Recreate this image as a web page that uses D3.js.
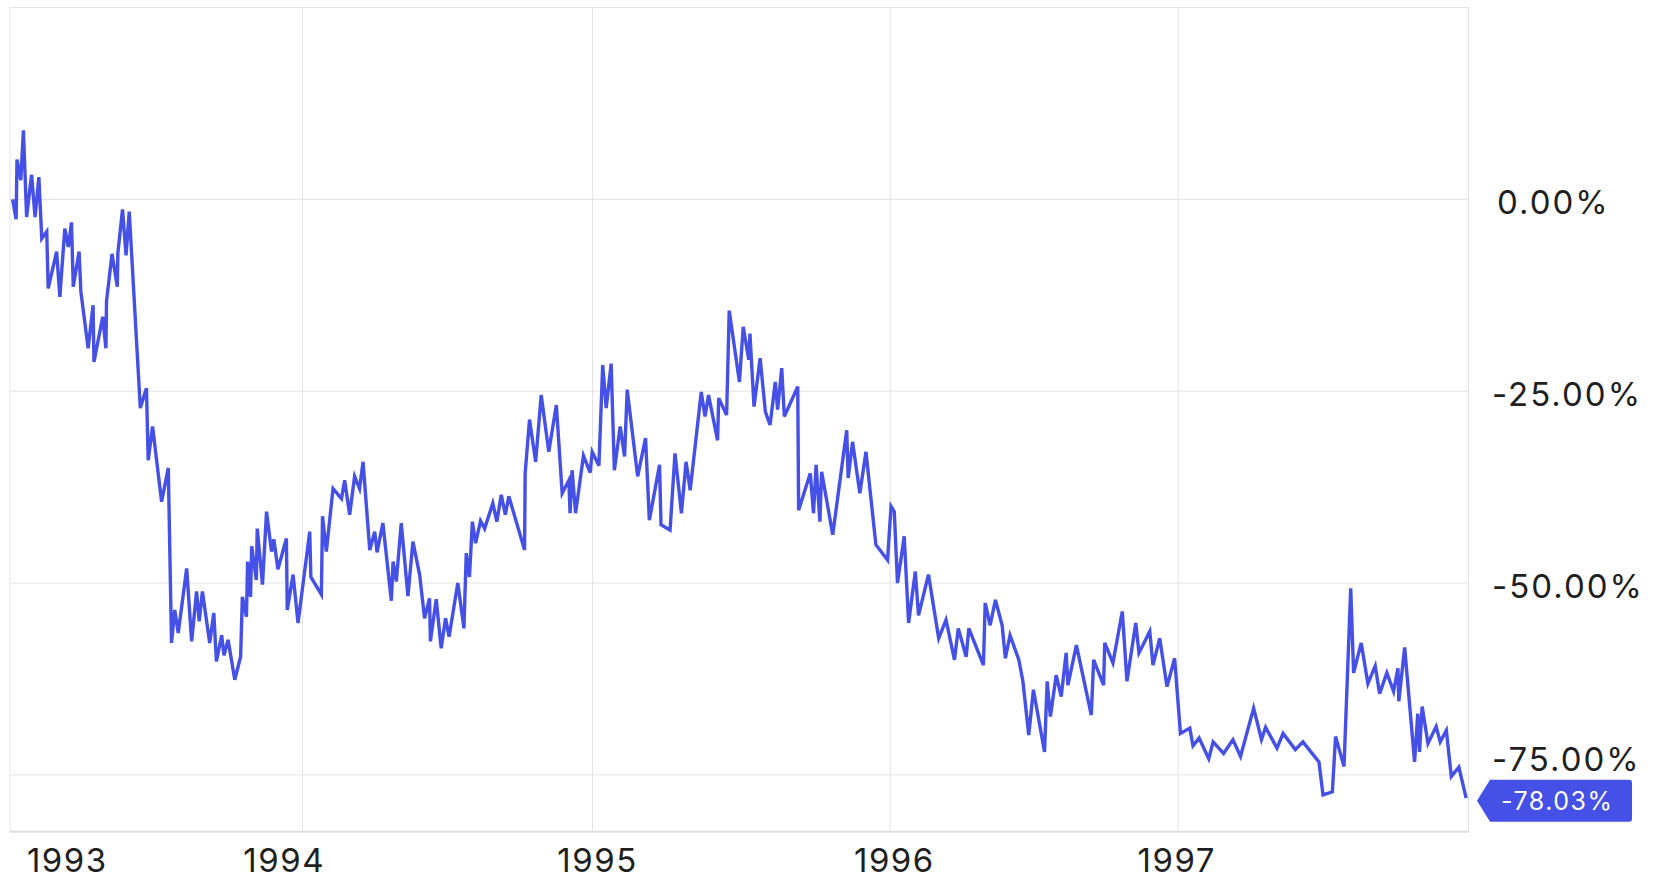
<!DOCTYPE html>
<html lang="en">
<head>
<meta charset="UTF-8">
<title>Cumulative return 1993-1997</title>
<script src="https://d3js.org/d3.v7.min.js"></script>
<style>
  body { margin: 0; background: #fff; }
  text { font-family: Inter, "Noto Sans", sans-serif; }
</style>
</head>
<body>
<div id="chart"></div>
<script>
// cumulative return in %, dates as decimal years
var y1993 = [[1993.009,0.0],[1993.021,-2.6],[1993.024,5.2],[1993.037,2.5],[1993.046,9.0],[1993.057,-2.3],[1993.074,3.2],[1993.086,-2.3],[1993.099,2.9],[1993.109,-5.1],
  [1993.126,-4.2],[1993.131,-11.6],[1993.160,-6.8],[1993.171,-12.7],[1993.188,-3.8],[1993.200,-6.2],[1993.211,-3.0],[1993.217,-11.4],[1993.237,-6.8],[1993.243,-12.0],
  [1993.268,-19.4],[1993.285,-13.8],[1993.288,-21.2],[1993.318,-15.3],[1993.329,-19.4],[1993.331,-13.3],[1993.350,-7.1],[1993.368,-11.4],[1993.370,-7.0],[1993.386,-1.3],
  [1993.398,-7.3],[1993.409,-1.6],[1993.447,-27.2],[1993.468,-24.6],[1993.474,-34.0],[1993.489,-29.6],[1993.520,-39.4],[1993.543,-35.0],[1993.554,-57.8],[1993.565,-53.5],
  [1993.577,-56.5],[1993.606,-48.1],[1993.623,-57.6],[1993.640,-51.1],[1993.649,-55.0],[1993.660,-51.1],[1993.685,-57.8],[1993.699,-53.9],[1993.708,-60.2],[1993.726,-56.8],
  [1993.734,-59.4],[1993.748,-57.4],[1993.771,-62.6],[1993.791,-59.6],[1993.797,-51.8],[1993.811,-54.4],[1993.815,-47.2],[1993.825,-51.8],[1993.829,-45.2],[1993.845,-49.6],
  [1993.848,-42.9],[1993.866,-50.2],[1993.880,-40.7],[1993.897,-45.9],[1993.905,-44.3],[1993.919,-48.2],[1993.948,-44.2],[1993.951,-53.5],[1993.971,-48.9],[1993.988,-55.2]];

var y1994 = [[1994.028,-43.3],[1994.032,-49.2],[1994.068,-51.5],[1994.072,-41.3],[1994.085,-45.9],[1994.108,-37.7],[1994.137,-39.0],[1994.148,-36.6],[1994.165,-41.1],[1994.182,-36.1],
  [1994.199,-37.7],[1994.211,-34.2],[1994.234,-45.7],[1994.251,-43.3],[1994.259,-46.0],[1994.279,-42.2],[1994.308,-52.3],[1994.314,-47.2],[1994.325,-49.8],[1994.342,-42.2],
  [1994.365,-51.7],[1994.382,-44.6],[1994.405,-48.9],[1994.422,-54.6],[1994.439,-52.0],[1994.442,-57.6],[1994.462,-52.1],[1994.479,-58.5],[1994.494,-54.6],[1994.506,-57.0],
  [1994.536,-50.0],[1994.557,-55.9],[1994.565,-46.1],[1994.576,-49.2],[1994.586,-42.0],[1994.597,-44.8],[1994.614,-41.9],[1994.628,-42.9],[1994.656,-39.6],[1994.670,-42.0],
  [1994.685,-38.5],[1994.699,-41.1],[1994.711,-38.7],[1994.765,-45.7],[1994.767,-35.7],[1994.782,-28.7],[1994.803,-34.2],[1994.822,-25.5],[1994.848,-32.9],[1994.874,-26.8],
  [1994.894,-38.3],[1994.917,-36.6],[1994.921,-40.9],[1994.928,-35.3],[1994.940,-40.9],[1994.967,-33.4],[1994.990,-35.6],[1994.997,-32.9]];

var y1995 = [[1995.020,-34.7],[1995.033,-21.6],[1995.045,-27.2],[1995.062,-21.4],[1995.073,-35.3],[1995.093,-29.6],[1995.108,-33.5],[1995.117,-24.8],[1995.153,-36.1],[1995.180,-31.1],
  [1995.193,-41.8],[1995.228,-34.6],[1995.233,-42.4],[1995.264,-43.1],[1995.281,-33.1],[1995.303,-40.9],[1995.319,-34.2],[1995.333,-37.9],[1995.371,-25.1],[1995.384,-28.3],
  [1995.396,-25.5],[1995.427,-31.4],[1995.431,-25.9],[1995.458,-28.1],[1995.467,-14.5],[1995.502,-23.8],[1995.515,-16.6],[1995.534,-20.9],[1995.538,-17.5],[1995.552,-27.0],
  [1995.573,-20.7],[1995.591,-27.7],[1995.607,-29.4],[1995.625,-23.8],[1995.633,-27.4],[1995.647,-22.0],[1995.656,-28.3],[1995.702,-24.4],[1995.705,-40.5],[1995.745,-35.7],
  [1995.756,-40.9],[1995.765,-34.6],[1995.778,-42.0],[1995.784,-35.5],[1995.822,-43.7],[1995.870,-30.1],[1995.875,-36.3],[1995.890,-31.6],[1995.915,-38.3],[1995.936,-32.9],
  [1995.970,-45.0]];

var y1996 = [[1996.010,-47.0],[1996.022,-40.0],[1996.033,-40.7],[1996.044,-50.0],[1996.067,-43.9],[1996.082,-55.2],[1996.105,-48.5],[1996.116,-54.2],[1996.150,-48.9],[1996.185,-57.2],
  [1996.210,-54.8],[1996.239,-60.0],[1996.252,-55.9],[1996.279,-59.6],[1996.288,-55.9],[1996.338,-60.7],[1996.344,-52.6],[1996.361,-55.5],[1996.379,-52.2],[1996.402,-55.5],
  [1996.413,-59.8],[1996.429,-56.8],[1996.459,-60.0],[1996.473,-62.8],[1996.493,-69.8],[1996.509,-63.9],[1996.547,-72.0],[1996.556,-62.8],[1996.567,-67.4],[1996.587,-62.0],
  [1996.604,-64.8],[1996.621,-59.1],[1996.627,-63.3],[1996.656,-58.1],[1996.707,-67.2],[1996.715,-60.0],[1996.749,-63.3],[1996.753,-57.8],[1996.781,-60.4],[1996.813,-53.7],
  [1996.829,-62.8],[1996.859,-55.2],[1996.870,-59.1],[1996.907,-56.3],[1996.918,-60.7],[1996.941,-57.2],[1996.966,-63.5],[1996.992,-59.8]];

var y1997 = [[1997.012,-69.6],[1997.044,-68.9],[1997.055,-71.2],[1997.076,-70.2],[1997.109,-72.9],[1997.124,-70.7],[1997.160,-72.2],[1997.192,-70.4],[1997.218,-72.6],[1997.263,-66.3],
  [1997.290,-70.4],[1997.304,-68.8],[1997.343,-71.5],[1997.364,-69.6],[1997.406,-71.7],[1997.432,-70.7],[1997.487,-73.3],[1997.501,-77.6],[1997.533,-77.2],[1997.544,-70.0],
  [1997.573,-73.9],[1997.596,-50.7],[1997.606,-61.7],[1997.632,-57.8],[1997.655,-63.1],[1997.680,-60.8],[1997.695,-64.4],[1997.720,-61.7],[1997.743,-64.1],[1997.758,-61.1],
  [1997.761,-65.4],[1997.781,-58.4],[1997.815,-73.3],[1997.826,-67.0],[1997.832,-72.0],[1997.841,-66.1],[1997.861,-70.9],[1997.889,-68.7],[1997.903,-70.7],[1997.924,-69.2],
  [1997.941,-75.2],[1997.967,-74.0],[1997.992,-78.03]];

// axis values
var yTicks = [0, -25, -50, -75];
var gridYears = [1994.003, 1994.998, 1996.019, 1997.004];   // first trading day of each year
var xLabels = ["1993", "1994", "1995", "1996", "1997"];
var xLabelYears = [1993.193, 1993.937, 1995.012, 1996.030, 1996.996];

var width = 1657, height = 879;
var plotLeft = 10, plotRight = 1468.5, plotTop = 7.5, plotBottom = 831.7;
var lineColor = "#4550e6";

function toDate(t) {
    var yr = Math.floor(t);
    var a = new Date(yr, 0, 1), b = new Date(yr + 1, 0, 1);
    return new Date(+a + (t - yr) * (b - a));
}

var data = y1993.concat(y1994, y1995, y1996, y1997).map(function (d) {
    return { date: toDate(d[0]), value: d[1] };
});

var x = d3.scaleTime()
    .domain([new Date(1993, 0, 1), new Date(1998, 0, 1)])
    .range([plotLeft, plotRight]);

var y = d3.scaleLinear()
    .domain([-82.4, 25])
    .range([plotBottom, plotTop]);

var svg = d3.select("#chart")
    .append("svg")
    .attr("width", width)
    .attr("height", height);

// grid
var grid = svg.append("g").attr("stroke", "#e3e3e3").attr("stroke-width", 1);

grid.selectAll(".h")
    .data(yTicks)
    .join("line")
    .attr("class", "h")
    .attr("x1", plotLeft).attr("x2", plotRight)
    .attr("y1", function (d) { return y(d); })
    .attr("y2", function (d) { return y(d); });

grid.selectAll(".v")
    .data(gridYears)
    .join("line")
    .attr("class", "v")
    .attr("x1", function (d) { return x(toDate(d)); })
    .attr("x2", function (d) { return x(toDate(d)); })
    .attr("y1", plotTop).attr("y2", plotBottom);

// frame
svg.append("rect")
    .attr("x", plotLeft).attr("y", plotTop)
    .attr("width", plotRight - plotLeft).attr("height", plotBottom - plotTop)
    .attr("fill", "none")
    .attr("stroke", "#e3e3e3");

svg.append("line")
    .attr("x1", plotLeft).attr("x2", plotRight)
    .attr("y1", plotBottom).attr("y2", plotBottom)
    .attr("stroke", "#dddddd")
    .attr("stroke-width", 2);

// line
var line = d3.line()
    .x(function (d) { return x(d.date); })
    .y(function (d) { return y(d.value); });

svg.append("path")
    .datum(data)
    .attr("d", line)
    .attr("fill", "none")
    .attr("stroke", lineColor)
    .attr("stroke-width", 3.4);

// last value badge position (y labels move out of its way)
var last = data[data.length - 1];
var by = y(last.value) + 2.5;
var badgeTop = by - 21;

// y labels
svg.append("g")
    .selectAll("text")
    .data(yTicks)
    .join("text")
    .attr("x", function (d) { return d < 0 ? 1492 : 1497; })
    .attr("y", function (d) { return Math.min(y(d) + 14.5, badgeTop - 9); })
    .attr("font-size", "33px")
    .attr("letter-spacing", "2px")
    .attr("fill", "#1f1f1f")
    .text(function (d) { return d.toFixed(2) + "%"; });

// x labels
svg.append("g")
    .selectAll("text")
    .data(xLabels)
    .join("text")
    .attr("x", function (d, i) { return x(toDate(xLabelYears[i])) + 1; })
    .attr("y", 872)
    .attr("text-anchor", "middle")
    .attr("font-size", "33px")
    .attr("letter-spacing", "1.5px")
    .attr("fill", "#1f1f1f")
    .text(function (d) { return d; });

// last value badge
var badge = svg.append("g").attr("transform", "translate(1477," + by + ")");

badge.append("path")
    .attr("d", "M0,0 L13,-21 L152,-21 Q155,-21 155,-18 L155,18 Q155,21 152,21 L13,21 Z")
    .attr("fill", lineColor);

badge.append("text")
    .attr("x", 24)
    .attr("y", 9)
    .attr("font-size", "25px")
    .attr("letter-spacing", "1.5px")
    .attr("fill", "#fff")
    .text(last.value.toFixed(2) + "%");
</script>
</body>
</html>
